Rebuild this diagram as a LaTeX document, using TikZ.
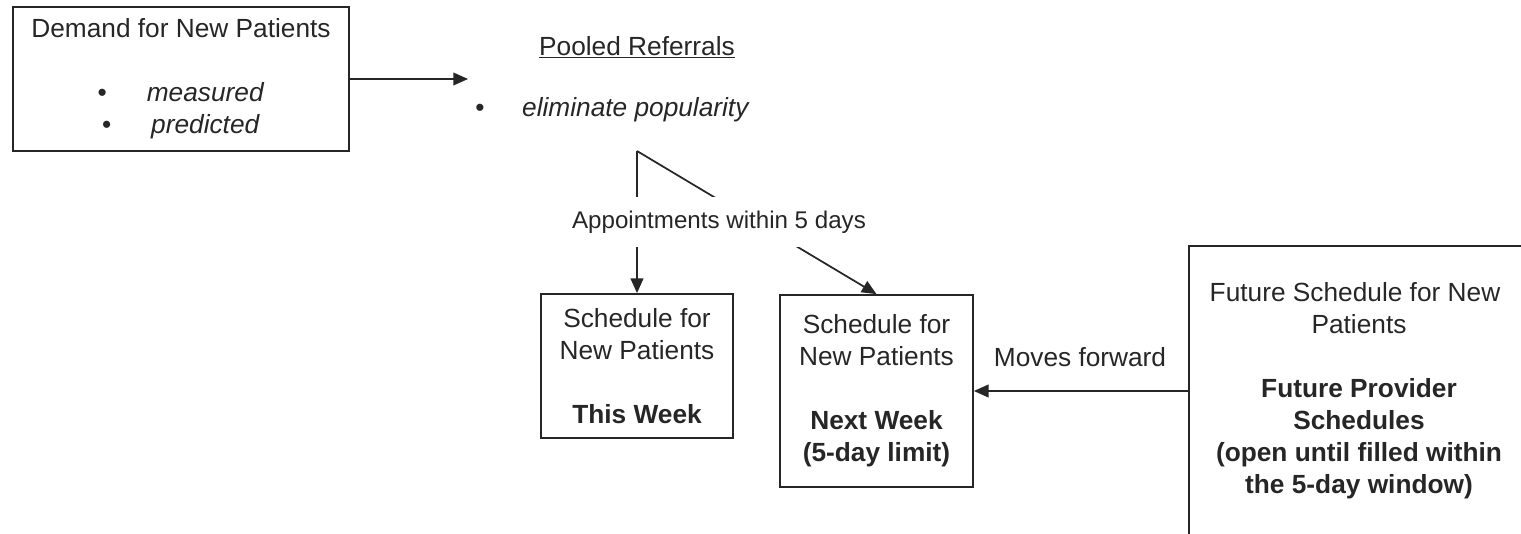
\documentclass[tikz,border=0pt]{standalone}
\usepackage{fontspec}
\setmainfont{Liberation Sans}
\usetikzlibrary{arrows.meta}
\definecolor{ink}{HTML}{262626}
\tikzset{
  box/.style={draw=ink, line width=1.3pt, align=center, inner sep=0pt, text=ink,
              font=\fontsize{19.7pt}{24pt}\selectfont},
  txt/.style={text=ink, inner sep=0pt, font=\fontsize{19.7pt}{24pt}\selectfont},
  conn/.style={draw=ink, line width=1.3pt},
  arr/.style={conn, -{Triangle[length=11pt,width=9.5pt]}}
}
\begin{document}
\begin{tikzpicture}[x=0.75pt,y=-0.75pt]
\useasboundingbox (0,0) rectangle (1521,533);
\clip (0,0) rectangle (1521,533);
% boxes
\node[box, minimum width=252pt, minimum height=108pt] (demand) at (181,79)
  {Demand for New Patients\\[24pt]
   \textbullet\hspace{30pt}\textit{measured}\\
   \textbullet\hspace{30pt}\textit{predicted}};
\node[box, minimum width=144pt, minimum height=108pt] (thisweek) at (637,366)
  {Schedule for\\New Patients\\[24pt]\textbf{This Week}};
\node[box, minimum width=144.75pt, minimum height=144pt] (nextweek) at (876.5,391)
  {Schedule for\\New Patients\\[24pt]\textbf{Next Week}\\\textbf{(5-day limit)}};
\node[box, minimum width=255pt, minimum height=216.75pt] (future) at (1359,390.5)
  {\hspace*{-6pt}Future Schedule for New\\Patients\\[24pt]
   \textbf{Future Provider}\\\textbf{Schedules}\\\textbf{(open until filled within}\\\textbf{the 5-day window)}};
% pooled referrals
\node[txt] (pooled) at (637,47) {\underline{Pooled Referrals}};
\node[txt] (bullet) at (480,110) {\textbullet};
\node[txt] (elim) at (636,110) {\textit{eliminate popularity}};
\coordinate (pooltip) at (468,79);
\coordinate (split) at (637,151);
% connectors
\draw[arr] (demand.east |- pooltip) -- (pooltip);
\draw[arr] (split) -- (thisweek.north);
\draw[arr] (split) -- (nextweek.north);
\node[txt, font=\fontsize{18.1pt}{22pt}\selectfont, fill=white, minimum height=37.5pt, inner xsep=2pt] (appt) at (719,222) {Appointments within 5 days};
\draw[arr] (future.west |- nextweek.east) -- (nextweek.east);
\node[txt] (moves) at (1080,357) {Moves forward};
\end{tikzpicture}
\end{document}
